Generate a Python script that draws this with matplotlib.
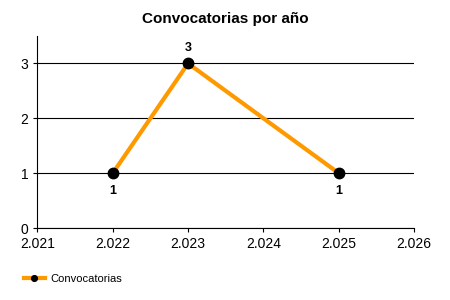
import matplotlib.pyplot as plt
from matplotlib.ticker import FuncFormatter

plt.rcParams['font.family'] = ['Liberation Sans', 'DejaVu Sans']

years = [2022, 2023, 2025]
counts = [1, 3, 1]
x_ticks = [2021, 2022, 2023, 2024, 2025, 2026]

fig = plt.figure(figsize=(4.5, 3), dpi=100)
ax = fig.add_axes([0.0833, 0.24, 0.8367, 0.64])

ax.plot(years, counts, color='#FF9900', lw=3, marker='o', ms=7.5,
        mfc='black', mec='black', label='Convocatorias', zorder=3)

for x, y in zip(years, counts):
    off = 11 if y == max(counts) else -13
    ax.annotate(str(y), (x, y), xytext=(0, off), textcoords='offset points',
                ha='center', va='center', fontsize=9, fontweight='bold')

ax.set_xlim(2021, 2026)
ax.set_ylim(0, 3.5)
ax.set_xticks(x_ticks)
ax.set_yticks([0, 1, 2, 3])
ax.xaxis.set_major_formatter(FuncFormatter(lambda v, p: f'{int(v):,}'.replace(',', '.')))
ax.grid(axis='y', color='black', lw=0.8)
ax.set_axisbelow(True)
for s in ['top', 'right']:
    ax.spines[s].set_visible(False)
ax.tick_params(direction='out', length=3, labelsize=10)

ax.set_title('Convocatorias por año', fontsize=11, fontweight='bold', pad=9)

fig.legend(loc='lower left', bbox_to_anchor=(0.03, 0.02), frameon=False,
           fontsize=8, handlelength=1.9, handletextpad=0.55, markerscale=0.55)

fig.savefig('out.png', dpi=100)
